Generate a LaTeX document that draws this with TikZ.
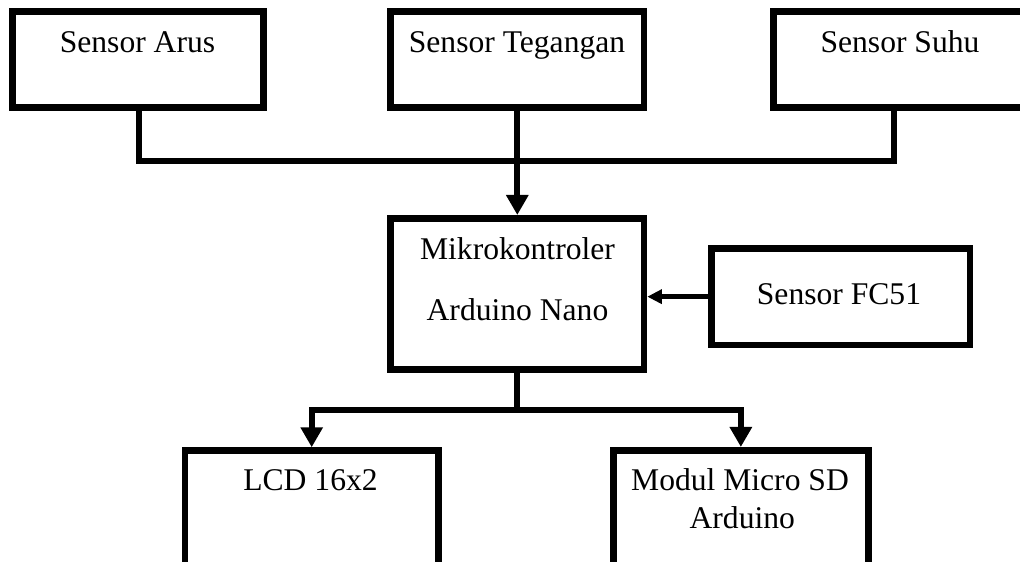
\documentclass[tikz,border=0pt]{standalone}
\usepackage{fontspec}
\setmainfont{Liberation Serif}
\usetikzlibrary{arrows.meta}
\begin{document}
\begin{tikzpicture}[x=0.75pt,y=-0.75pt,
  box/.style={draw, line width=4.9pt, inner sep=0pt, minimum width=190.1pt, minimum height=71.9pt},
  lbl/.style={anchor=base, inner sep=0pt, font=\fontsize{23.7}{28}\selectfont},
  conn/.style={line width=4.5pt},
  arr/.style={conn, -{Triangle[length=15pt,width=16pt]}},
  sarr/.style={line width=3.5pt, -{Triangle[length=11pt,width=10.5pt]}}]
\useasboundingbox (0,0) rectangle (1020,561);
\clip (0,0) rectangle (1020,561);
% boxes
\node[box, minimum width=188.6pt] (arus) at (138,59.5) {};
\node[box] (teg) at (517.3,59.5) {};
\node[box] (suhu) at (900,59.5) {};
\node[box, minimum height=113.4pt] (mikro) at (517.3,293.85) {};
\node[box, minimum width=193.9pt, minimum height=72.6pt] (fc) at (840.8,296.65) {};
\node[box, minimum height=94.7pt] (lcd) at (311.7,513.65) {};
\node[box, minimum width=191.4pt, minimum height=94.9pt] (modul) at (740.85,513.5) {};
% labels
\node[lbl] (tarus) at (137.5,52.7) {Sensor Arus};
\node[lbl] (tteg) at (517,52.7) {Sensor Tegangan};
\node[lbl] (tsuhu) at (900,52.7) {Sensor Suhu};
\node[lbl] (tmik1) at (517.5,259.3) {Mikrokontroler};
\node[lbl] (tmik2) at (517.5,320) {Arduino Nano};
\node[lbl] (tfc) at (839,304) {Sensor FC51};
\node[lbl] (tlcd) at (310.5,490.7) {LCD 16x2};
\node[lbl] (tmod1) at (740,490.7) {Modul Micro SD};
\node[lbl] (tmod2) at (742.3,528.3) {Arduino};
% connectors
\coordinate (j1) at (517.3,160.7);
\coordinate (j2) at (517.3,409.7);
\draw[conn] ([xshift=1.1pt]arus.south) |- (j1) -| ([xshift=-4.5pt]suhu.south);
\draw[arr] (teg.south) -- (mikro.north);
\draw[arr] (mikro.south) -- (j2) -| (lcd.north);
\draw[arr] (j2) -| (modul.north);
\draw[sarr] (fc.west) -- (fc.west -| mikro.east);
\end{tikzpicture}
\end{document}
